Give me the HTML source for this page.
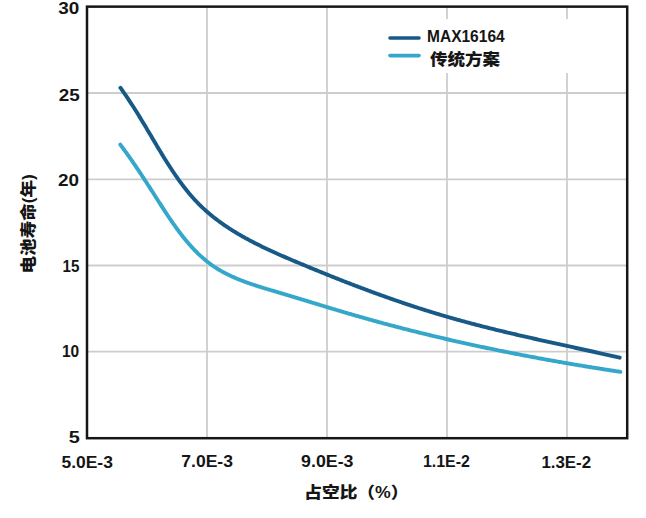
<!DOCTYPE html>
<html><head><meta charset="utf-8"><style>
html,body{margin:0;padding:0;background:#fff;}
body{width:646px;height:518px;overflow:hidden;}
svg{display:block;}
text{font-family:"Liberation Sans", "Noto Sans CJK SC", sans-serif;font-weight:bold;fill:#151515;}
</style></head><body>
<svg width="646" height="518" viewBox="0 0 646 518">
<rect width="646" height="518" fill="#fff"/>
<g stroke="#cdcdcd" stroke-width="1.8" fill="none">
<line x1="207" y1="6.64" x2="207" y2="438.2"/>
<line x1="327" y1="6.64" x2="327" y2="438.2"/>
<line x1="447" y1="6.64" x2="447" y2="438.2"/>
<line x1="567" y1="6.64" x2="567" y2="438.2"/>
<line x1="87" y1="93.0" x2="627.2" y2="93.0"/>
<line x1="87" y1="179.3" x2="627.2" y2="179.3"/>
<line x1="87" y1="265.5" x2="627.2" y2="265.5"/>
<line x1="87" y1="351.7" x2="627.2" y2="351.7"/>
</g>
<rect x="380" y="19" width="210" height="54" fill="#fff"/>
<path d="M120.32 144.65 L121.01 145.56 L121.69 146.48 L122.38 147.40 L123.06 148.32 L123.74 149.24 L124.42 150.17 L125.09 151.09 L125.76 152.02 L126.43 152.95 L127.10 153.88 L127.77 154.82 L128.43 155.75 L129.10 156.69 L129.76 157.62 L130.42 158.56 L131.07 159.50 L131.73 160.45 L132.38 161.39 L133.03 162.33 L133.68 163.28 L134.33 164.23 L134.98 165.18 L135.63 166.13 L136.27 167.08 L136.92 168.04 L137.56 168.99 L138.20 169.95 L138.84 170.91 L139.48 171.87 L140.12 172.83 L140.76 173.79 L141.39 174.75 L142.03 175.72 L142.66 176.69 L143.30 177.65 L143.93 178.62 L144.56 179.59 L145.20 180.56 L145.83 181.53 L146.46 182.51 L147.09 183.48 L147.72 184.46 L148.35 185.44 L148.98 186.41 L149.61 187.39 L150.24 188.37 L150.87 189.35 L151.50 190.34 L152.13 191.32 L152.76 192.30 L153.39 193.29 L154.02 194.27 L154.65 195.26 L155.28 196.25 L155.91 197.24 L156.54 198.23 L157.17 199.22 L157.81 200.21 L158.44 201.20 L159.07 202.19 L159.71 203.18 L160.35 204.17 L160.98 205.16 L161.62 206.15 L162.26 207.15 L162.90 208.13 L163.54 209.12 L164.18 210.11 L164.83 211.10 L165.48 212.08 L166.12 213.07 L166.77 214.05 L167.42 215.03 L168.08 216.01 L168.73 216.99 L169.39 217.97 L170.05 218.94 L170.71 219.91 L171.38 220.88 L172.04 221.85 L172.71 222.81 L173.38 223.78 L174.06 224.73 L174.74 225.69 L175.41 226.64 L176.10 227.59 L176.78 228.54 L177.47 229.48 L178.16 230.41 L178.86 231.35 L179.56 232.28 L180.26 233.20 L180.96 234.13 L181.67 235.04 L182.38 235.95 L183.10 236.86 L183.82 237.76 L184.54 238.66 L185.27 239.55 L186.00 240.44 L186.74 241.32 L187.48 242.20 L188.22 243.07 L188.97 243.94 L189.72 244.79 L190.48 245.65 L191.24 246.49 L192.01 247.33 L192.78 248.17 L193.56 248.99 L194.34 249.81 L195.12 250.63 L195.91 251.43 L196.71 252.23 L197.51 253.02 L198.32 253.81 L199.13 254.58 L199.95 255.35 L200.77 256.11 L201.60 256.86 L202.44 257.61 L203.28 258.34 L204.12 259.07 L204.97 259.79 L205.83 260.50 L206.70 261.20 L207.57 261.90 L208.45 262.58 L209.33 263.25 L210.22 263.92 L211.11 264.57 L212.02 265.22 L212.93 265.85 L213.84 266.48 L214.77 267.10 L215.70 267.70 L216.63 268.30 L217.57 268.89 L218.52 269.46 L219.48 270.03 L220.44 270.59 L221.41 271.15 L222.38 271.69 L223.36 272.22 L224.34 272.75 L225.33 273.27 L226.32 273.78 L227.32 274.28 L228.33 274.78 L229.34 275.27 L230.35 275.75 L231.37 276.22 L232.39 276.69 L233.42 277.15 L234.46 277.60 L235.49 278.05 L236.53 278.49 L237.58 278.93 L238.63 279.35 L239.68 279.78 L240.74 280.20 L241.80 280.61 L242.86 281.02 L243.93 281.42 L245.00 281.82 L246.07 282.21 L247.15 282.60 L248.23 282.98 L249.31 283.36 L250.39 283.74 L251.48 284.11 L252.57 284.48 L253.66 284.84 L254.76 285.20 L255.85 285.56 L256.95 285.92 L258.05 286.27 L259.15 286.62 L260.25 286.96 L261.36 287.31 L262.46 287.65 L263.57 287.99 L264.68 288.33 L265.79 288.67 L266.90 289.00 L268.01 289.33 L269.12 289.67 L270.24 290.00 L271.35 290.33 L272.46 290.66 L273.58 290.99 L274.69 291.31 L275.80 291.64 L276.92 291.97 L278.03 292.30 L279.14 292.63 L280.26 292.96 L281.37 293.29 L282.48 293.62 L283.59 293.95 L284.70 294.28 L285.81 294.61 L286.92 294.94 L288.03 295.27 L289.14 295.61 L290.25 295.94 L291.35 296.27 L292.46 296.61 L293.57 296.94 L294.67 297.28 L295.78 297.61 L296.89 297.95 L297.99 298.28 L299.10 298.62 L300.20 298.95 L301.31 299.29 L302.41 299.62 L303.51 299.96 L304.62 300.30 L305.72 300.63 L306.83 300.97 L307.93 301.30 L309.03 301.64 L310.13 301.98 L311.24 302.31 L312.34 302.65 L313.44 302.99 L314.54 303.32 L315.65 303.66 L316.75 303.99 L317.85 304.33 L318.95 304.67 L320.05 305.00 L321.16 305.34 L322.26 305.67 L323.36 306.01 L324.46 306.34 L325.56 306.68 L326.66 307.01 L327.77 307.34 L328.87 307.68 L329.97 308.01 L331.07 308.34 L332.18 308.67 L333.28 309.01 L334.38 309.34 L335.48 309.67 L336.59 310.00 L337.69 310.33 L338.79 310.66 L339.90 310.99 L341.00 311.32 L342.10 311.64 L343.21 311.97 L344.31 312.30 L345.42 312.62 L346.52 312.95 L347.63 313.27 L348.73 313.60 L349.84 313.92 L350.94 314.24 L352.05 314.56 L353.16 314.88 L354.26 315.20 L355.37 315.52 L356.48 315.84 L357.59 316.16 L358.70 316.48 L359.81 316.79 L360.91 317.11 L362.02 317.42 L363.13 317.74 L364.24 318.05 L365.36 318.36 L366.47 318.67 L367.58 318.99 L368.69 319.30 L369.80 319.61 L370.91 319.91 L372.03 320.22 L373.14 320.53 L374.25 320.84 L375.37 321.14 L376.48 321.45 L377.59 321.75 L378.71 322.06 L379.82 322.36 L380.94 322.66 L382.05 322.96 L383.17 323.26 L384.28 323.56 L385.40 323.86 L386.52 324.16 L387.63 324.46 L388.75 324.76 L389.87 325.05 L390.99 325.35 L392.10 325.65 L393.22 325.94 L394.34 326.23 L395.46 326.53 L396.58 326.82 L397.70 327.11 L398.82 327.40 L399.94 327.69 L401.06 327.98 L402.18 328.27 L403.30 328.56 L404.42 328.85 L405.54 329.13 L406.66 329.42 L407.79 329.70 L408.91 329.99 L410.03 330.27 L411.15 330.55 L412.28 330.84 L413.40 331.12 L414.52 331.40 L415.65 331.68 L416.77 331.96 L417.90 332.24 L419.02 332.52 L420.15 332.79 L421.27 333.07 L422.40 333.35 L423.52 333.62 L424.65 333.90 L425.77 334.17 L426.90 334.45 L428.03 334.72 L429.15 334.99 L430.28 335.26 L431.41 335.53 L432.53 335.80 L433.66 336.07 L434.79 336.34 L435.92 336.61 L437.04 336.88 L438.17 337.14 L439.30 337.41 L440.43 337.67 L441.56 337.94 L442.69 338.20 L443.82 338.47 L444.95 338.73 L446.08 338.99 L447.21 339.25 L448.34 339.51 L449.47 339.77 L450.60 340.03 L451.73 340.29 L452.86 340.55 L453.99 340.81 L455.13 341.06 L456.26 341.32 L457.39 341.57 L458.52 341.83 L459.65 342.08 L460.79 342.34 L461.92 342.59 L463.05 342.84 L464.19 343.09 L465.32 343.34 L466.45 343.59 L467.59 343.84 L468.72 344.09 L469.85 344.34 L470.99 344.59 L472.12 344.84 L473.26 345.08 L474.39 345.33 L475.53 345.57 L476.66 345.82 L477.80 346.06 L478.93 346.30 L480.07 346.55 L481.20 346.79 L482.34 347.03 L483.48 347.27 L484.61 347.51 L485.75 347.75 L486.89 347.99 L488.02 348.23 L489.16 348.46 L490.30 348.70 L491.43 348.94 L492.57 349.17 L493.71 349.41 L494.84 349.64 L495.98 349.87 L497.12 350.11 L498.26 350.34 L499.40 350.57 L500.53 350.80 L501.67 351.03 L502.81 351.26 L503.95 351.49 L505.09 351.72 L506.23 351.95 L507.37 352.18 L508.50 352.40 L509.64 352.63 L510.78 352.86 L511.92 353.08 L513.06 353.31 L514.20 353.53 L515.34 353.75 L516.48 353.97 L517.62 354.20 L518.76 354.42 L519.90 354.64 L521.04 354.86 L522.18 355.08 L523.32 355.30 L524.46 355.52 L525.60 355.73 L526.74 355.95 L527.88 356.17 L529.03 356.38 L530.17 356.60 L531.31 356.81 L532.45 357.03 L533.59 357.24 L534.73 357.46 L535.87 357.67 L537.01 357.88 L538.16 358.09 L539.30 358.30 L540.44 358.51 L541.58 358.72 L542.72 358.93 L543.86 359.14 L545.01 359.35 L546.15 359.56 L547.29 359.76 L548.43 359.97 L549.58 360.17 L550.72 360.38 L551.86 360.58 L553.00 360.79 L554.14 360.99 L555.29 361.19 L556.43 361.40 L557.57 361.60 L558.71 361.80 L559.86 362.00 L561.00 362.20 L562.14 362.40 L563.29 362.60 L564.43 362.79 L565.57 362.99 L566.71 363.19 L567.86 363.39 L569.00 363.58 L570.14 363.78 L571.29 363.97 L572.43 364.17 L573.57 364.36 L574.72 364.55 L575.86 364.75 L577.00 364.94 L578.14 365.13 L579.29 365.32 L580.43 365.51 L581.57 365.70 L582.72 365.89 L583.86 366.08 L585.00 366.27 L586.15 366.46 L587.29 366.64 L588.43 366.83 L589.58 367.02 L590.72 367.20 L591.86 367.39 L593.01 367.57 L594.15 367.76 L595.29 367.94 L596.44 368.12 L597.58 368.30 L598.72 368.49 L599.87 368.67 L601.01 368.85 L602.15 369.03 L603.30 369.21 L604.44 369.39 L605.58 369.57 L606.73 369.74 L607.87 369.92 L609.01 370.10 L610.15 370.28 L611.30 370.45 L612.44 370.63 L613.58 370.80 L614.73 370.98 L615.87 371.15 L617.01 371.32 L618.15 371.50 L619.30 371.67 L620.44 371.84" stroke="#35a7ca" stroke-width="3.9" fill="none" stroke-linecap="round" stroke-linejoin="round"/>
<path d="M120.41 87.74 L121.10 88.69 L121.78 89.65 L122.46 90.61 L123.13 91.57 L123.81 92.54 L124.48 93.51 L125.14 94.48 L125.81 95.45 L126.47 96.43 L127.13 97.41 L127.79 98.39 L128.44 99.37 L129.10 100.35 L129.75 101.34 L130.40 102.33 L131.04 103.32 L131.69 104.31 L132.33 105.31 L132.97 106.30 L133.61 107.30 L134.25 108.30 L134.88 109.30 L135.52 110.31 L136.15 111.31 L136.78 112.32 L137.41 113.33 L138.04 114.34 L138.66 115.35 L139.29 116.36 L139.91 117.38 L140.53 118.39 L141.16 119.41 L141.78 120.43 L142.39 121.45 L143.01 122.47 L143.63 123.49 L144.24 124.51 L144.86 125.54 L145.47 126.56 L146.09 127.59 L146.70 128.62 L147.31 129.65 L147.92 130.67 L148.54 131.70 L149.15 132.73 L149.76 133.77 L150.37 134.80 L150.98 135.83 L151.59 136.86 L152.20 137.89 L152.81 138.92 L153.42 139.96 L154.03 140.99 L154.64 142.02 L155.25 143.05 L155.87 144.09 L156.48 145.12 L157.09 146.15 L157.71 147.18 L158.33 148.21 L158.94 149.24 L159.56 150.27 L160.18 151.29 L160.80 152.32 L161.42 153.35 L162.04 154.37 L162.67 155.39 L163.30 156.41 L163.92 157.44 L164.55 158.45 L165.19 159.47 L165.82 160.49 L166.45 161.50 L167.09 162.51 L167.73 163.53 L168.38 164.53 L169.02 165.54 L169.67 166.55 L170.32 167.55 L170.97 168.55 L171.63 169.55 L172.28 170.54 L172.94 171.53 L173.61 172.52 L174.28 173.51 L174.95 174.49 L175.62 175.48 L176.30 176.45 L176.98 177.43 L177.66 178.40 L178.35 179.37 L179.04 180.33 L179.73 181.29 L180.43 182.25 L181.14 183.20 L181.84 184.15 L182.55 185.10 L183.27 186.04 L183.99 186.97 L184.71 187.91 L185.44 188.83 L186.17 189.76 L186.91 190.67 L187.65 191.59 L188.40 192.49 L189.15 193.40 L189.90 194.29 L190.67 195.19 L191.43 196.07 L192.20 196.95 L192.98 197.83 L193.76 198.70 L194.55 199.56 L195.34 200.42 L196.14 201.27 L196.95 202.11 L197.76 202.95 L198.57 203.78 L199.39 204.61 L200.22 205.43 L201.06 206.24 L201.89 207.05 L202.74 207.85 L203.59 208.64 L204.45 209.43 L205.31 210.21 L206.17 210.98 L207.05 211.75 L207.92 212.51 L208.81 213.27 L209.70 214.02 L210.59 214.76 L211.49 215.50 L212.39 216.24 L213.30 216.96 L214.21 217.68 L215.13 218.40 L216.05 219.11 L216.98 219.82 L217.91 220.52 L218.85 221.21 L219.79 221.90 L220.74 222.59 L221.69 223.27 L222.64 223.94 L223.60 224.61 L224.56 225.27 L225.53 225.93 L226.50 226.59 L227.48 227.24 L228.46 227.88 L229.44 228.52 L230.43 229.16 L231.42 229.79 L232.41 230.41 L233.41 231.04 L234.41 231.65 L235.42 232.27 L236.43 232.88 L237.44 233.48 L238.46 234.08 L239.48 234.68 L240.50 235.27 L241.53 235.86 L242.56 236.45 L243.59 237.03 L244.62 237.61 L245.66 238.18 L246.70 238.75 L247.75 239.32 L248.79 239.88 L249.84 240.44 L250.89 241.00 L251.95 241.55 L253.01 242.10 L254.06 242.65 L255.13 243.19 L256.19 243.73 L257.26 244.27 L258.33 244.80 L259.40 245.33 L260.47 245.86 L261.55 246.39 L262.62 246.91 L263.70 247.43 L264.78 247.95 L265.87 248.46 L266.95 248.97 L268.04 249.48 L269.13 249.99 L270.22 250.50 L271.31 251.00 L272.40 251.50 L273.49 252.00 L274.59 252.49 L275.69 252.99 L276.78 253.48 L277.88 253.97 L278.98 254.46 L280.08 254.95 L281.19 255.43 L282.29 255.92 L283.39 256.40 L284.50 256.88 L285.60 257.36 L286.71 257.83 L287.81 258.31 L288.92 258.79 L290.03 259.26 L291.14 259.73 L292.25 260.20 L293.35 260.67 L294.46 261.14 L295.57 261.61 L296.68 262.08 L297.79 262.54 L298.90 263.01 L300.01 263.47 L301.12 263.94 L302.23 264.40 L303.34 264.86 L304.45 265.32 L305.56 265.79 L306.66 266.25 L307.77 266.71 L308.88 267.17 L309.99 267.62 L311.10 268.08 L312.21 268.54 L313.32 268.99 L314.43 269.45 L315.53 269.90 L316.64 270.36 L317.75 270.81 L318.86 271.26 L319.97 271.72 L321.08 272.17 L322.19 272.62 L323.29 273.07 L324.40 273.51 L325.51 273.96 L326.62 274.41 L327.73 274.86 L328.84 275.30 L329.95 275.74 L331.05 276.19 L332.16 276.63 L333.27 277.07 L334.38 277.51 L335.49 277.96 L336.60 278.39 L337.71 278.83 L338.82 279.27 L339.93 279.71 L341.04 280.14 L342.15 280.58 L343.25 281.01 L344.36 281.45 L345.47 281.88 L346.58 282.31 L347.69 282.74 L348.80 283.17 L349.91 283.60 L351.03 284.03 L352.14 284.46 L353.25 284.88 L354.36 285.31 L355.47 285.73 L356.58 286.16 L357.69 286.58 L358.80 287.00 L359.92 287.42 L361.03 287.84 L362.14 288.26 L363.25 288.68 L364.36 289.09 L365.48 289.51 L366.59 289.92 L367.70 290.34 L368.82 290.75 L369.93 291.16 L371.04 291.57 L372.16 291.98 L373.27 292.39 L374.39 292.80 L375.50 293.21 L376.62 293.61 L377.73 294.02 L378.85 294.42 L379.97 294.83 L381.08 295.23 L382.20 295.63 L383.32 296.03 L384.43 296.43 L385.55 296.82 L386.67 297.22 L387.79 297.62 L388.90 298.01 L390.02 298.40 L391.14 298.80 L392.26 299.19 L393.38 299.58 L394.50 299.97 L395.62 300.35 L396.74 300.74 L397.86 301.13 L398.99 301.51 L400.11 301.89 L401.23 302.28 L402.35 302.66 L403.48 303.04 L404.60 303.42 L405.72 303.79 L406.85 304.17 L407.97 304.55 L409.10 304.92 L410.22 305.29 L411.35 305.67 L412.47 306.04 L413.60 306.41 L414.73 306.77 L415.86 307.14 L416.98 307.51 L418.11 307.87 L419.24 308.24 L420.37 308.60 L421.50 308.96 L422.63 309.32 L423.76 309.68 L424.89 310.03 L426.03 310.39 L427.16 310.75 L428.29 311.10 L429.43 311.45 L430.56 311.80 L431.69 312.15 L432.83 312.50 L433.96 312.85 L435.10 313.20 L436.24 313.54 L437.37 313.88 L438.51 314.23 L439.65 314.57 L440.79 314.91 L441.93 315.25 L443.07 315.58 L444.21 315.92 L445.35 316.25 L446.49 316.59 L447.63 316.92 L448.78 317.25 L449.92 317.58 L451.06 317.90 L452.21 318.23 L453.35 318.56 L454.50 318.88 L455.65 319.20 L456.79 319.52 L457.94 319.84 L459.09 320.16 L460.24 320.48 L461.39 320.80 L462.54 321.11 L463.69 321.43 L464.84 321.74 L465.99 322.05 L467.14 322.36 L468.29 322.67 L469.44 322.98 L470.60 323.28 L471.75 323.59 L472.90 323.89 L474.06 324.20 L475.21 324.50 L476.37 324.80 L477.52 325.10 L478.68 325.40 L479.84 325.70 L480.99 326.00 L482.15 326.29 L483.31 326.59 L484.46 326.88 L485.62 327.17 L486.78 327.47 L487.94 327.76 L489.10 328.05 L490.26 328.34 L491.42 328.62 L492.58 328.91 L493.74 329.20 L494.90 329.48 L496.06 329.77 L497.22 330.05 L498.38 330.34 L499.54 330.62 L500.70 330.90 L501.86 331.18 L503.02 331.46 L504.19 331.74 L505.35 332.02 L506.51 332.29 L507.67 332.57 L508.84 332.85 L510.00 333.12 L511.16 333.40 L512.33 333.67 L513.49 333.94 L514.65 334.21 L515.81 334.49 L516.98 334.76 L518.14 335.03 L519.31 335.30 L520.47 335.57 L521.63 335.83 L522.80 336.10 L523.96 336.37 L525.12 336.64 L526.29 336.90 L527.45 337.17 L528.61 337.43 L529.78 337.70 L530.94 337.96 L532.11 338.22 L533.27 338.49 L534.43 338.75 L535.60 339.01 L536.76 339.27 L537.92 339.53 L539.09 339.80 L540.25 340.06 L541.41 340.32 L542.57 340.57 L543.74 340.83 L544.90 341.09 L546.06 341.35 L547.22 341.61 L548.39 341.87 L549.55 342.12 L550.71 342.38 L551.87 342.64 L553.03 342.89 L554.19 343.15 L555.35 343.40 L556.52 343.66 L557.68 343.91 L558.84 344.17 L560.00 344.42 L561.16 344.68 L562.31 344.93 L563.47 345.19 L564.63 345.44 L565.79 345.69 L566.95 345.95 L568.11 346.20 L569.26 346.46 L570.42 346.71 L571.58 346.96 L572.73 347.21 L573.89 347.47 L575.05 347.72 L576.20 347.97 L577.36 348.23 L578.51 348.48 L579.67 348.73 L580.82 348.98 L581.97 349.24 L583.12 349.49 L584.28 349.74 L585.43 350.00 L586.58 350.25 L587.73 350.50 L588.88 350.75 L590.03 351.01 L591.18 351.26 L592.33 351.51 L593.48 351.77 L594.63 352.02 L595.77 352.27 L596.92 352.53 L598.07 352.78 L599.21 353.04 L600.36 353.29 L601.50 353.55 L602.64 353.80 L603.79 354.06 L604.93 354.31 L606.07 354.57 L607.21 354.82 L608.35 355.08 L609.49 355.33 L610.63 355.59 L611.77 355.85 L612.91 356.10 L614.05 356.36 L615.18 356.62 L616.32 356.88 L617.45 357.14 L618.59 357.40 L619.72 357.66" stroke="#175a88" stroke-width="3.9" fill="none" stroke-linecap="round" stroke-linejoin="round"/>
<rect x="87" y="6.64" width="540.20" height="431.56" fill="none" stroke="#161616" stroke-width="2.5"/>
<line x1="390" y1="38" x2="419" y2="38" stroke="#175a88" stroke-width="3.6" stroke-linecap="round"/>
<line x1="390" y1="55.6" x2="419" y2="55.6" stroke="#35a7ca" stroke-width="3.6" stroke-linecap="round"/>
<g transform="matrix(1.1813 0 0 0.9917 -12.756 -0.175)"><text x="78" y="14.5" font-size="16" text-anchor="end">30</text></g>
<g transform="matrix(1.1812 0 0 1.0000 -12.456 0.400)"><text x="78" y="100.2" font-size="16" text-anchor="end">25</text></g>
<g transform="matrix(1.1812 0 0 1.0167 -13.156 -3.200)"><text x="78" y="185.7" font-size="16" text-anchor="end">20</text></g>
<g transform="matrix(0.9500 0 0 0.9917 5.350 2.758)"><text x="78" y="271.4" font-size="16" text-anchor="end">15</text></g>
<g transform="matrix(0.9688 0 0 0.9833 3.606 5.567)"><text x="78" y="357.5" font-size="16" text-anchor="end">10</text></g>
<g transform="matrix(1.2429 0 0 1.0083 -17.100 -3.492)"><text x="78" y="443.1" font-size="16" text-anchor="end">5</text></g>
<g transform="matrix(1.0913 0 0 1.0250 -8.335 -11.375)"><text x="87.5" y="467.2" font-size="16" text-anchor="middle">5.0E-3</text></g>
<g transform="matrix(1.0957 0 0 1.0250 -19.700 -11.375)"><text x="207" y="467.2" font-size="16" text-anchor="middle">7.0E-3</text></g>
<g transform="matrix(1.1109 0 0 1.0250 -36.004 -11.375)"><text x="327" y="467.2" font-size="16" text-anchor="middle">9.0E-3</text></g>
<g transform="matrix(0.9956 0 0 1.0250 1.389 -11.375)"><text x="447" y="467.2" font-size="16" text-anchor="middle">1.1E-2</text></g>
<g transform="matrix(1.0533 0 0 1.0250 -30.967 -11.375)"><text x="567" y="467.2" font-size="16" text-anchor="middle">1.3E-2</text></g>
<g transform="matrix(1.0026 0 0 1.1100 -2.114 -4.420)"><text x="428" y="42.2" font-size="15.5" text-anchor="start">MAX16164</text></g>
<g transform="matrix(1.0299 0 0 0.9471 -11.906 3.347)"><text x="429" y="65" font-size="17" text-anchor="start" style="font-weight:900">传统方案</text></g>
<g transform="matrix(1.0414 0 0 0.9471 -9.779 25.724)"><text x="351.6" y="498.5" font-size="17" text-anchor="middle" style="font-weight:900">占空比（%）</text></g>
<g transform="matrix(0.9444 0 0 1.0309 1.956 -5.699)"><text transform="translate(34,222.6) rotate(-90)" font-size="17" text-anchor="middle" style="font-weight:900">电池寿命(年)</text></g>
</svg>
</body></html>
